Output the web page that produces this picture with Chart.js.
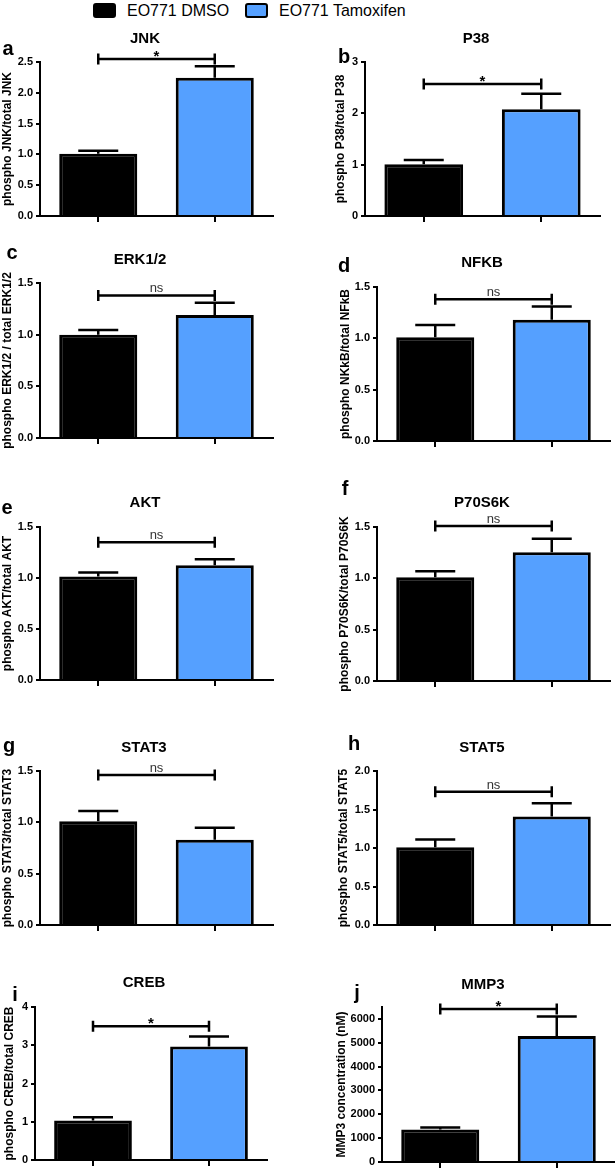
<!DOCTYPE html>
<html>
<head>
<meta charset="utf-8">
<script src="https://cdn.jsdelivr.net/npm/chart.js@4/dist/chart.umd.min.js"></script>
<style>
  body { margin: 0; background: #fff; }
  #wrap { position: relative; width: 615px; height: 1170px; overflow: hidden; font-family: "Liberation Sans", Arial, sans-serif; }
  #wrap canvas { position: absolute; }
  .key { position: absolute; top: 3px; width: 23px; height: 15px; border-radius: 3px; box-sizing: border-box; border: 2px solid #000; }
  .keytext { position: absolute; top: 0; font-size: 17px; line-height: 21px; color: #000; transform: scaleX(0.94); transform-origin: left center; white-space: nowrap; }
</style>
</head>
<body>
<div id="wrap">
  <div class="key" style="left:93px;background:#000"></div>
  <div class="keytext" style="left:127px">EO771 DMSO</div>
  <div class="key" style="left:245px;background:#55A0FF"></div>
  <div class="keytext" style="left:279px">EO771 Tamoxifen</div>
</div>
<script>
var groups = ['EO771 DMSO', 'EO771 Tamoxifen'];
var titles = ['JNK', 'P38', 'ERK1/2', 'NFKB', 'AKT', 'P70S6K', 'STAT3', 'STAT5', 'CREB', 'MMP3'];
var letters = ['a', 'b', 'c', 'd', 'e', 'f', 'g', 'h', 'i', 'j'];
var yTitles = [
  'phospho JNK/total JNK', 'phospho P38/total P38',
  'phospho ERK1/2 / total ERK1/2', 'phospho NKkB/total NFkB',
  'phospho AKT/total AKT', 'phospho P70S6K/total P70S6K',
  'phospho STAT3/total STAT3', 'phospho STAT5/total STAT5',
  'phospho CREB/total CREB', 'MMP3 concentration (nM)'
];
var dmsoMean = [1.01, 1.01, 1.00, 1.01, 1.015, 1.01, 1.01, 1.01, 1.03, 1365];
var dmsoErr  = [0.05, 0.08, 0.045, 0.12, 0.04, 0.06, 0.10, 0.10, 0.09, 82];
var tamMean  = [2.245, 2.08, 1.19, 1.18, 1.125, 1.255, 0.83, 1.41, 2.97, 5281];
var tamErr   = [0.185, 0.30, 0.12, 0.13, 0.06, 0.13, 0.118, 0.17, 0.26, 819];
var yMax     = [2.5, 3, 1.5, 1.5, 1.5, 1.5, 1.5, 2.0, 4, 6500];
var yStep    = [0.5, 1, 0.5, 0.5, 0.5, 0.5, 0.5, 0.5, 1, 1000];
var yDecimals = [1, 0, 1, 1, 1, 1, 1, 1, 0, 0];
var sigAt    = [2.55, 2.57, 1.38, 1.38, 1.35, 1.51, 1.46, 1.73, 3.5, 6420];
var sigText  = ['*', '*', 'ns', 'ns', 'ns', 'ns', 'ns', 'ns', '*', '*'];

// plot area of each panel on the page (l/r/t/b), title, letter and y-title positions
var layout = [
  { l: 40,  r: 273, t: 62,   b: 216,  tx: 145, ty: 39,  lx: 8,   ly: 49,  yx: 8 },
  { l: 365, r: 600, t: 62,   b: 216,  tx: 476, ty: 39,  lx: 344, ly: 57,  yx: 341 },
  { l: 40,  r: 273, t: 283,  b: 438,  tx: 140, ty: 260, lx: 12,  ly: 253, yx: 8 },
  { l: 377, r: 610, t: 287,  b: 441,  tx: 482, ty: 263, lx: 344, ly: 266, yx: 346 },
  { l: 40,  r: 273, t: 527,  b: 680,  tx: 145, ty: 503, lx: 7,   ly: 508, yx: 8 },
  { l: 377, r: 610, t: 527,  b: 681,  tx: 482, ty: 503, lx: 345, ly: 489, yx: 345 },
  { l: 40,  r: 273, t: 771,  b: 925,  tx: 144, ty: 748, lx: 9,   ly: 746, yx: 8 },
  { l: 377, r: 610, t: 771,  b: 925,  tx: 482, ty: 748, lx: 354, ly: 744, yx: 344 },
  { l: 35,  r: 267, t: 1007, b: 1160, tx: 144, ty: 983, lx: 15,  ly: 995, yx: 10 },
  { l: 382, r: 615, t: 1007, b: 1162, tx: 483, ty: 985, lx: 357, ly: 993, yx: 342 }
];

var FONT = '"Liberation Sans", Arial, sans-serif';
Chart.defaults.font.family = FONT;

var extras = {
  id: 'extras',
  afterDatasetsDraw: function (chart, args, o) {
    var ctx = chart.ctx, y = chart.scales.y;
    var bars = chart.getDatasetMeta(0).data;
    var vals = chart.data.datasets[0].data;
    ctx.save();
    ctx.strokeStyle = '#000';
    ctx.lineWidth = 2.5;
    // error bars (upper only)
    bars.forEach(function (bar, k) {
      var top = y.getPixelForValue(vals[k] + o.errs[k]);
      ctx.beginPath();
      ctx.moveTo(bar.x, bar.y);
      ctx.lineTo(bar.x, top);
      ctx.moveTo(bar.x - 20, top);
      ctx.lineTo(bar.x + 20, top);
      ctx.stroke();
    });
    // significance bracket
    var sy = y.getPixelForValue(o.sig);
    var x0 = bars[0].x, x1 = bars[1].x, mid = (x0 + x1) / 2;
    ctx.beginPath();
    ctx.moveTo(x0, sy); ctx.lineTo(x1, sy);
    ctx.moveTo(x0, sy - 5.5); ctx.lineTo(x0, sy + 5.5);
    ctx.moveTo(x1, sy - 5.5); ctx.lineTo(x1, sy + 5.5);
    ctx.stroke();
    ctx.textAlign = 'center';
    if (o.sigText === '*') {
      ctx.fillStyle = '#000';
      ctx.font = 'bold 15px ' + FONT;
      ctx.textBaseline = 'alphabetic';
      ctx.fillText('*', mid, sy + 2);
    } else {
      ctx.fillStyle = '#333';
      ctx.font = '13px ' + FONT;
      ctx.textBaseline = 'alphabetic';
      ctx.fillText('ns', mid, sy - 3);
    }
    // title, panel letter
    ctx.fillStyle = '#000';
    ctx.textBaseline = 'middle';
    ctx.font = 'bold 15px ' + FONT;
    ctx.fillText(o.title, o.tx, o.ty);
    ctx.font = 'bold 20px ' + FONT;
    ctx.fillText(o.letter, o.lx, o.ly);
    // y-axis title
    ctx.font = 'bold 12px ' + FONT;
    ctx.translate(o.yx, (chart.chartArea.top + chart.chartArea.bottom) / 2);
    ctx.rotate(-Math.PI / 2);
    ctx.fillText(o.yTitle, 0, 0);
    ctx.restore();
  }
};

var wrap = document.getElementById('wrap');

function makePanel(i) {
  var g = layout[i];
  var cx = (i % 2) ? 305 : 0;
  var cw = (i % 2) ? 310 : 305;
  var cy = g.t - 50;
  var ch = g.b - g.t + 75;
  var cv = document.createElement('canvas');
  cv.width = cw;
  cv.height = ch;
  cv.style.left = cx + 'px';
  cv.style.top = cy + 'px';
  wrap.appendChild(cv);

  new Chart(cv.getContext('2d'), {
    type: 'bar',
    data: {
      labels: groups,
      datasets: [{
        data: [dmsoMean[i], tamMean[i]],
        backgroundColor: ['#000000', '#55A0FF'],
        borderColor: '#000',
        borderWidth: 3,
        categoryPercentage: 1,
        barPercentage: 0.67
      }]
    },
    plugins: [extras],
    options: {
      responsive: false,
      animation: false,
      layout: { padding: { left: 0, right: cx + cw - g.r, top: 50, bottom: 0 } },
      plugins: {
        legend: { display: false },
        tooltip: { enabled: false },
        extras: {
          errs: [dmsoErr[i], tamErr[i]],
          sig: sigAt[i],
          sigText: sigText[i],
          title: titles[i],
          letter: letters[i],
          yTitle: yTitles[i],
          tx: g.tx - cx, ty: g.ty - cy,
          lx: g.lx - cx, ly: g.ly - cy,
          yx: g.yx - cx
        }
      },
      scales: {
        x: {
          ticks: { display: false },
          grid: { offset: false, drawOnChartArea: false, drawTicks: true, tickLength: 6, color: '#000', lineWidth: 2 },
          border: { color: '#000', width: 2 },
          afterFit: function (s) { s.height = 25; }
        },
        y: {
          min: 0,
          max: yMax[i],
          ticks: {
            stepSize: yStep[i],
            autoSkip: false,
            color: '#000',
            padding: 3,
            font: { size: 11, weight: 'bold' },
            callback: function (v) { return Number(v).toFixed(yDecimals[i]); }
          },
          grid: { drawOnChartArea: false, drawTicks: true, tickLength: 4, color: '#000', lineWidth: 2 },
          border: { color: '#000', width: 2 },
          afterBuildTicks: function (s) {
            var t = [];
            for (var k = 0; k * yStep[i] <= yMax[i] + 1e-9; k++) {
              t.push({ value: Math.round(k * yStep[i] * 1000) / 1000 });
            }
            s.ticks = t;
          },
          afterFit: function (s) { s.width = g.l - cx; }
        }
      }
    }
  });
}

for (var i = 0; i < titles.length; i++) makePanel(i);
</script>
</body>
</html>
